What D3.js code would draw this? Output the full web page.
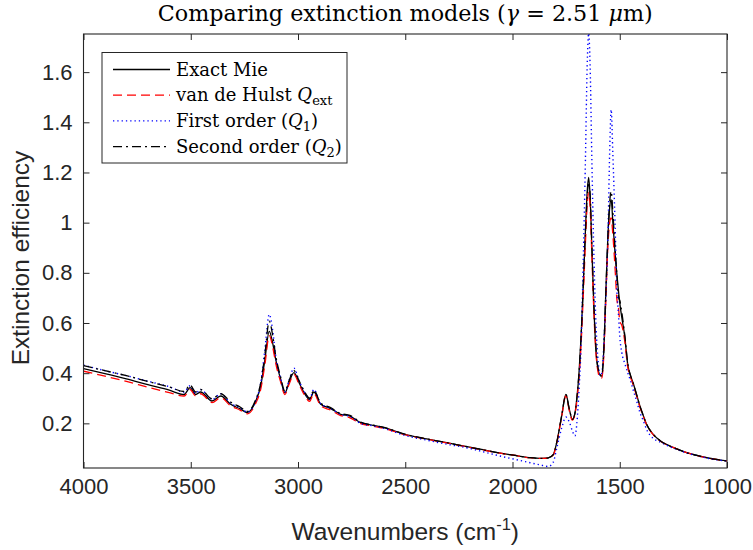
<!DOCTYPE html>
<html>
<head>
<meta charset="utf-8">
<script src="https://cdn.jsdelivr.net/npm/d3@7"></script>
<style>
  body { margin: 0; background: #fff; }
  #chart-area { width: 753px; height: 550px; }
</style>
</head>
<body>
<div id="chart-area"></div>
<script>
// wavenumber grid (cm^-1)
const wavenumbers = [4000, 3900, 3800, 3700, 3600, 3531, 3503, 3477, 3454, 3401, 3360, 3314, 3270, 3236, 3197, 3174, 3155, 3134, 3118, 3104,
  3081, 3061, 3042, 3019, 2995, 2970, 2946, 2926, 2894, 2848, 2801, 2758, 2708, 2650, 2599, 2502, 2400, 2307, 2200, 2152,
  2050, 1996, 1918, 1864, 1833, 1810, 1794, 1771, 1751, 1735, 1721, 1709, 1700, 1690, 1680, 1670, 1660, 1652, 1645, 1638,
  1630, 1620, 1610, 1600, 1590, 1584, 1575, 1565, 1555, 1547, 1540, 1532, 1522, 1514, 1505, 1500, 1490, 1477, 1462, 1450,
  1438, 1420, 1406, 1390, 1375, 1344, 1310, 1282, 1240, 1188, 1140, 1095, 1050, 1000];

const exactMie = [0.418, 0.398, 0.377, 0.354, 0.332, 0.315, 0.342, 0.315, 0.325, 0.289, 0.309, 0.276, 0.258, 0.243, 0.289, 0.349, 0.45, 0.567, 0.52, 0.455,
  0.375, 0.322, 0.362, 0.402, 0.362, 0.32, 0.295, 0.325, 0.276, 0.259, 0.236, 0.229, 0.203, 0.192, 0.183, 0.156, 0.138, 0.123, 0.105, 0.097,
  0.08, 0.073, 0.063, 0.06, 0.062, 0.075, 0.123, 0.229, 0.315, 0.256, 0.216, 0.24, 0.30, 0.40, 0.55, 0.75, 0.97, 1.12, 1.18, 1.10,
  0.90, 0.65, 0.48, 0.41, 0.39, 0.388, 0.48, 0.72, 0.95, 1.06, 1.092, 1.0, 0.88, 0.80, 0.72, 0.68, 0.62, 0.548, 0.43, 0.39,
  0.362, 0.31, 0.269, 0.23, 0.196, 0.156, 0.13, 0.116, 0.10, 0.083, 0.072, 0.063, 0.056, 0.05];

const vanDeHulst = [0.408, 0.388, 0.367, 0.344, 0.322, 0.309, 0.335, 0.309, 0.318, 0.283, 0.302, 0.27, 0.253, 0.238, 0.28, 0.335, 0.43, 0.55, 0.505, 0.44,
  0.365, 0.315, 0.355, 0.395, 0.355, 0.313, 0.288, 0.318, 0.27, 0.253, 0.231, 0.222, 0.199, 0.189, 0.18, 0.155, 0.137, 0.122, 0.104, 0.096,
  0.08, 0.073, 0.063, 0.06, 0.062, 0.074, 0.12, 0.225, 0.31, 0.25, 0.213, 0.236, 0.29, 0.38, 0.52, 0.71, 0.92, 1.07, 1.12, 1.06,
  0.87, 0.63, 0.47, 0.40, 0.38, 0.38, 0.46, 0.69, 0.91, 1.0, 1.019, 0.95, 0.82, 0.70, 0.654, 0.607, 0.59, 0.53, 0.42, 0.385,
  0.355, 0.305, 0.265, 0.227, 0.194, 0.155, 0.129, 0.115, 0.10, 0.083, 0.072, 0.063, 0.056, 0.05];

const firstOrder = [0.432, 0.41, 0.39, 0.368, 0.346, 0.325, 0.35, 0.32, 0.335, 0.295, 0.318, 0.28, 0.262, 0.245, 0.29, 0.36, 0.49, 0.634, 0.57, 0.47,
  0.38, 0.325, 0.37, 0.42, 0.37, 0.325, 0.298, 0.335, 0.278, 0.26, 0.236, 0.228, 0.2, 0.19, 0.18, 0.152, 0.133, 0.117, 0.10, 0.09,
  0.068, 0.058, 0.043, 0.033, 0.028, 0.045, 0.10, 0.18, 0.225, 0.205, 0.17, 0.15, 0.20, 0.33, 0.52, 0.85, 1.25, 1.62, 1.755, 1.62,
  1.25, 0.85, 0.58, 0.44, 0.39, 0.40, 0.50, 0.70, 0.95, 1.28, 1.45, 1.27, 1.0, 0.747, 0.62, 0.548, 0.48, 0.44, 0.40, 0.37,
  0.335, 0.285, 0.243, 0.21, 0.176, 0.14, 0.125, 0.113, 0.098, 0.082, 0.071, 0.062, 0.055, 0.05];

const secondOrder = [0.43, 0.41, 0.39, 0.367, 0.345, 0.327, 0.352, 0.325, 0.335, 0.298, 0.318, 0.285, 0.265, 0.248, 0.295, 0.36, 0.47, 0.607, 0.55, 0.47,
  0.385, 0.328, 0.37, 0.41, 0.37, 0.327, 0.30, 0.332, 0.28, 0.263, 0.239, 0.232, 0.205, 0.193, 0.184, 0.157, 0.138, 0.123, 0.105, 0.097,
  0.08, 0.073, 0.063, 0.06, 0.062, 0.075, 0.123, 0.229, 0.315, 0.256, 0.216, 0.24, 0.30, 0.40, 0.55, 0.75, 0.96, 1.10, 1.16, 1.11,
  0.91, 0.66, 0.49, 0.415, 0.393, 0.39, 0.48, 0.72, 0.95, 1.08, 1.125, 1.04, 0.90, 0.80, 0.70, 0.69, 0.64, 0.555, 0.435, 0.392,
  0.362, 0.31, 0.269, 0.23, 0.196, 0.156, 0.13, 0.116, 0.10, 0.083, 0.072, 0.063, 0.056, 0.05];

const xTicks = [4000, 3500, 3000, 2500, 2000, 1500, 1000];
const yTicks = [0.2, 0.4, 0.6, 0.8, 1, 1.2, 1.4, 1.6];

const seriesNames = ["Exact Mie", "van de Hulst Q_ext", "First order (Q_1)", "Second order (Q_2)"];

// line styles for each series (same order as above)
const styles = [
  { color: "#000000", dash: null, width: 1.3 },
  { color: "#ff0000", dash: "9,5", width: 1.3 },
  { color: "#0000ff", dash: "1.3,3", width: 1.4 },
  { color: "#000000", dash: "9,4,2,4", width: 1.3 },
];

let vis = {};
vis.W = 753;
vis.H = 550;
vis.left = 83.5; vis.right = 727; vis.top = 34; vis.bottom = 468;
vis.axisColor = "#262626";
vis.sans = "'Liberation Sans', Arial, sans-serif";
vis.serif = "'DejaVu Serif', serif";

vis.svg = d3.select("#chart-area").append("svg")
  .attr("width", vis.W)
  .attr("height", vis.H);

vis.x = d3.scaleLinear().domain([4000, 1000]).range([vis.left, vis.right]);
vis.y = d3.scaleLinear().domain([0.022, 1.752]).range([vis.bottom, vis.top]);

vis.svg.append("clipPath").attr("id", "plot-clip")
  .append("rect")
  .attr("x", vis.left).attr("y", vis.top)
  .attr("width", vis.right - vis.left).attr("height", vis.bottom - vis.top);

// curves
const allSeries = [exactMie, vanDeHulst, firstOrder, secondOrder];
const line = d3.line()
  .x(d => vis.x(d[0]))
  .y(d => vis.y(d[1]))
  .curve(d3.curveMonotoneX);

const curves = vis.svg.append("g").attr("clip-path", "url(#plot-clip)");
allSeries.forEach((vals, i) => {
  curves.append("path")
    .datum(wavenumbers.map((w, j) => [w, vals[j]]))
    .attr("fill", "none")
    .attr("stroke", styles[i].color)
    .attr("stroke-width", styles[i].width)
    .attr("stroke-dasharray", styles[i].dash)
    .attr("stroke-linejoin", "round")
    .attr("d", line);
});

// axes, MATLAB style: box with inward ticks on all four sides
const tickLen = 6;
const bottomAxis = d3.axisBottom(vis.x).tickValues(xTicks).tickSizeInner(-tickLen).tickSizeOuter(0).tickPadding(10)
  .tickFormat(d3.format("d"));
const topAxis = d3.axisTop(vis.x).tickValues(xTicks).tickSizeInner(-tickLen).tickSizeOuter(0).tickFormat("");
const leftAxis = d3.axisLeft(vis.y).tickValues(yTicks).tickSizeInner(-tickLen).tickSizeOuter(0).tickPadding(11)
  .tickFormat(d => String(d));
const rightAxis = d3.axisRight(vis.y).tickValues(yTicks).tickSizeInner(-tickLen).tickSizeOuter(0).tickFormat("");

function styleAxis(g) {
  g.select(".domain").remove();
  g.selectAll("line").attr("stroke", vis.axisColor).attr("stroke-width", 1);
  g.selectAll("text")
    .attr("fill", vis.axisColor)
    .style("font-family", vis.sans)
    .style("font-size", "22px");
}

vis.svg.append("g").attr("transform", `translate(0,${vis.bottom})`).call(bottomAxis).call(styleAxis);
vis.svg.append("g").attr("transform", `translate(0,${vis.top})`).call(topAxis).call(styleAxis);
vis.svg.append("g").attr("transform", `translate(${vis.left},0)`).call(leftAxis).call(styleAxis);
vis.svg.append("g").attr("transform", `translate(${vis.right},0)`).call(rightAxis).call(styleAxis);

vis.svg.append("rect")
  .attr("x", vis.left).attr("y", vis.top)
  .attr("width", vis.right - vis.left).attr("height", vis.bottom - vis.top)
  .attr("fill", "none")
  .attr("stroke", vis.axisColor)
  .attr("stroke-width", 1.1);

// axis labels
const xLabel = vis.svg.append("text")
  .attr("x", (vis.left + vis.right) / 2)
  .attr("y", 540)
  .attr("text-anchor", "middle")
  .attr("fill", vis.axisColor)
  .style("font-family", vis.sans)
  .style("font-size", "24.5px");
xLabel.append("tspan").text("Wavenumbers (cm");
xLabel.append("tspan").attr("dy", -10).style("font-size", "16.5px").text("-1");
xLabel.append("tspan").attr("dy", 10).text(")");

vis.svg.append("text")
  .attr("transform", `translate(29,258) rotate(-90)`)
  .attr("text-anchor", "middle")
  .attr("fill", vis.axisColor)
  .style("font-family", vis.sans)
  .style("font-size", "24.5px")
  .text("Extinction efficiency");

// title, sized so that it spans about the same width as the original
const title = vis.svg.append("text")
  .attr("x", (vis.left + vis.right) / 2)
  .attr("y", 21)
  .attr("text-anchor", "middle")
  .attr("fill", "#000")
  .style("font-family", vis.serif)
  .style("font-size", "20px");
title.append("tspan").text("Comparing extinction models (");
title.append("tspan").style("font-style", "italic").text("γ");
title.append("tspan").text(" = 2.51 ");
title.append("tspan").style("font-style", "italic").text("μ");
title.append("tspan").text("m)");
const titleLen = title.node().getComputedTextLength();
if (titleLen > 0) title.style("font-size", (20 * 495 / titleLen).toFixed(2) + "px");

// legend
vis.legend = vis.svg.append("g");
vis.legend.append("rect")
  .attr("x", 102).attr("y", 52.5)
  .attr("width", 245).attr("height", 110.5)
  .attr("fill", "#fff")
  .attr("stroke", vis.axisColor)
  .attr("stroke-width", 1);

seriesNames.forEach((name, i) => {
  const ly = 69.5 + i * 25.7;
  vis.legend.append("line")
    .attr("x1", 113).attr("x2", 170)
    .attr("y1", ly).attr("y2", ly)
    .attr("stroke", styles[i].color)
    .attr("stroke-width", styles[i].width)
    .attr("stroke-dasharray", styles[i].dash);

  const t = vis.legend.append("text")
    .attr("x", 176).attr("y", ly + 6)
    .attr("fill", "#000")
    .style("font-family", vis.serif)
    .style("font-size", "18px");

  // split "Q_sub" parts into italic Q + subscript
  const m = name.match(/^(.*?)Q_(\w+)(.*)$/);
  if (m) {
    t.append("tspan").text(m[1]);
    t.append("tspan").style("font-style", "italic").text("Q");
    t.append("tspan").attr("dy", 4).style("font-size", "13px").text(m[2]);
    t.append("tspan").attr("dy", -4).text(m[3]);
  } else {
    t.text(name);
  }
});
</script>
</body>
</html>
